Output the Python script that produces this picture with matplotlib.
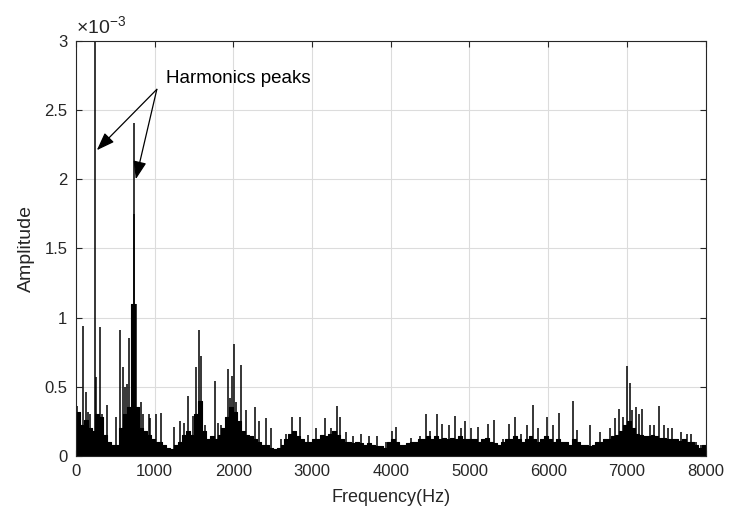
import matplotlib.pyplot as plt
import numpy as np

plt.rcParams['font.family'] = ['Liberation Sans', 'DejaVu Sans']

# broadband floor of the spectrum, one value per 50 Hz bin (x 1e-3)
bin_width = 50
body = [
    0.32, 0.22, 0.26, 0.20, 0.18, 0.30, 0.28, 0.15, 0.10, 0.08,
    0.08, 0.20, 0.30, 0.35, 1.10, 0.35, 0.20, 0.18, 0.15, 0.12,
    0.10, 0.10, 0.08, 0.06, 0.05, 0.08, 0.10, 0.15, 0.18, 0.15,
    0.30, 0.40, 0.18, 0.12, 0.14, 0.12, 0.15, 0.20, 0.28, 0.35,
    0.32, 0.25, 0.18, 0.15, 0.14, 0.12, 0.10, 0.08, 0.08, 0.06,
    0.05, 0.06, 0.08, 0.12, 0.16, 0.18, 0.14, 0.12, 0.10, 0.10,
    0.12, 0.12, 0.15, 0.14, 0.16, 0.18, 0.15, 0.12, 0.10, 0.10,
    0.09, 0.10, 0.09, 0.08, 0.09, 0.08, 0.07, 0.07, 0.06, 0.10,
    0.12, 0.10, 0.08, 0.08, 0.09, 0.10, 0.10, 0.12, 0.12, 0.14,
    0.12, 0.14, 0.12, 0.13, 0.12, 0.13, 0.12, 0.14, 0.12, 0.12,
    0.12, 0.12, 0.10, 0.12, 0.13, 0.10, 0.09, 0.08, 0.10, 0.12,
    0.12, 0.14, 0.12, 0.10, 0.12, 0.14, 0.12, 0.10, 0.12, 0.14,
    0.12, 0.10, 0.12, 0.10, 0.10, 0.08, 0.12, 0.10, 0.08, 0.08,
    0.07, 0.08, 0.10, 0.10, 0.12, 0.12, 0.14, 0.15, 0.18, 0.22,
    0.25, 0.20, 0.16, 0.15, 0.14, 0.14, 0.15, 0.14, 0.13, 0.13,
    0.12, 0.12, 0.12, 0.11, 0.12, 0.10, 0.10, 0.08, 0.06, 0.08,
]

# individual spectral lines (Hz, amplitude x 1e-3)
peak_freq = [
    17, 50, 93, 135, 160, 186, 250, 262, 305, 330, 402, 505,
    567, 601, 625, 652, 677, 735, 745, 770, 834, 851, 931, 947, 1024,
    1080, 1250, 1320, 1370, 1420, 1490, 1530, 1560, 1590, 1640, 1770,
    1810, 1850, 1935, 1960, 1985, 2006, 2030, 2100, 2165, 2270, 2330,
    2420, 2480, 2600, 2675, 2750, 2845, 2950, 3055, 3160, 3240, 3320,
    3360, 3430, 3520, 3620, 3730, 3830, 3940, 4020, 4065, 4260, 4370,
    4450, 4500, 4590, 4645, 4740, 4815, 4890, 4940, 5015, 5110, 5235,
    5310, 5420, 5500, 5575, 5650, 5730, 5807, 5870, 5985, 6060, 6140,
    6320, 6360, 6525, 6655, 6780, 6845, 6900, 6950, 7005, 7043, 7070,
    7111, 7150, 7187, 7289, 7350, 7407, 7466, 7520, 7577, 7691, 7767,
    7810, 7882, 7945,
]
peak_amp = [
    0.36, 0.23, 0.94, 0.46, 0.32, 0.30, 3.20, 0.57, 0.93, 0.30, 0.37, 0.28,
    0.91, 0.64, 0.50, 0.52, 0.85, 2.41, 1.75, 1.10, 0.39, 0.30, 0.30, 0.27, 0.30,
    0.31, 0.21, 0.25, 0.24, 0.43, 0.29, 0.64, 0.91, 0.72, 0.22, 0.54,
    0.24, 0.22, 0.63, 0.42, 0.58, 0.81, 0.39, 0.66, 0.33, 0.35, 0.25,
    0.27, 0.20, 0.12, 0.16, 0.28, 0.28, 0.15, 0.20, 0.27, 0.20, 0.36,
    0.28, 0.17, 0.14, 0.16, 0.14, 0.14, 0.10, 0.18, 0.21, 0.13, 0.14,
    0.30, 0.18, 0.30, 0.23, 0.22, 0.29, 0.20, 0.25, 0.20, 0.21, 0.23,
    0.26, 0.12, 0.23, 0.28, 0.16, 0.22, 0.37, 0.20, 0.28, 0.22, 0.31,
    0.40, 0.19, 0.22, 0.17, 0.20, 0.27, 0.34, 0.28, 0.65, 0.53, 0.33,
    0.35, 0.30, 0.34, 0.22, 0.22, 0.36, 0.22, 0.20, 0.20, 0.17, 0.16,
    0.16, 0.10, 0.08,
]

yticks = [0, 0.5, 1, 1.5, 2, 2.5, 3]
xticks = [0, 1000, 2000, 3000, 4000, 5000, 6000, 7000, 8000]

fig = plt.figure(figsize=(7.29, 5.18), dpi=100)
ax = fig.add_axes([0.104, 0.12, 0.864, 0.801])

centers = np.arange(len(body)) * bin_width + bin_width / 2
edges = np.concatenate([[0], centers, [8000]])
body_arr = np.array(body) * 1e-3
body_ext = np.concatenate([[body_arr[0]], body_arr, [body_arr[-1]]])
ax.fill_between(edges, 0, body_ext, step='mid', color='black', lw=0.8)
ax.vlines(peak_freq, 0, np.array(peak_amp) * 1e-3, color='black', lw=1.1)

ax.set_xlim(0, 8000)
ax.set_ylim(0, 3e-3)
ax.set_xticks(xticks)
ax.set_xticklabels([str(t) for t in xticks])
ax.set_yticks([t * 1e-3 for t in yticks])
ax.set_yticklabels(['0', '0.5', '1', '1.5', '2', '2.5', '3'])
ax.grid(True, color='#dcdcdc', lw=0.8)
ax.set_axisbelow(True)
ax.tick_params(direction='in', length=4, labelsize=12, colors='#262626',
               top=True, right=True, pad=6)
for s in ax.spines.values():
    s.set_color('#262626')
    s.set_linewidth(0.8)

ax.set_xlabel('Frequency(Hz)', fontsize=13, color='#262626', labelpad=7)
ax.set_ylabel('Amplitude', fontsize=14, color='#262626', labelpad=7)
ax.text(0.0, 1.008, '×10$^{\\mathregular{-3}}$', transform=ax.transAxes,
        fontsize=14, color='#262626', va='bottom', ha='left')

# annotation arrows
ax.text(1143, 2.73e-3, 'Harmonics peaks', fontsize=13.5, va='center', ha='left')
for tx, ty in [(267, 2.21e-3), (762, 2.0e-3)]:
    ax.annotate('', xy=(tx, ty), xytext=(1029, 2.65e-3),
                arrowprops=dict(arrowstyle='-|>,head_length=1.1,head_width=0.4',
                                color='black', lw=0.9, shrinkA=0, shrinkB=0))

plt.savefig('out.png', dpi=100)
